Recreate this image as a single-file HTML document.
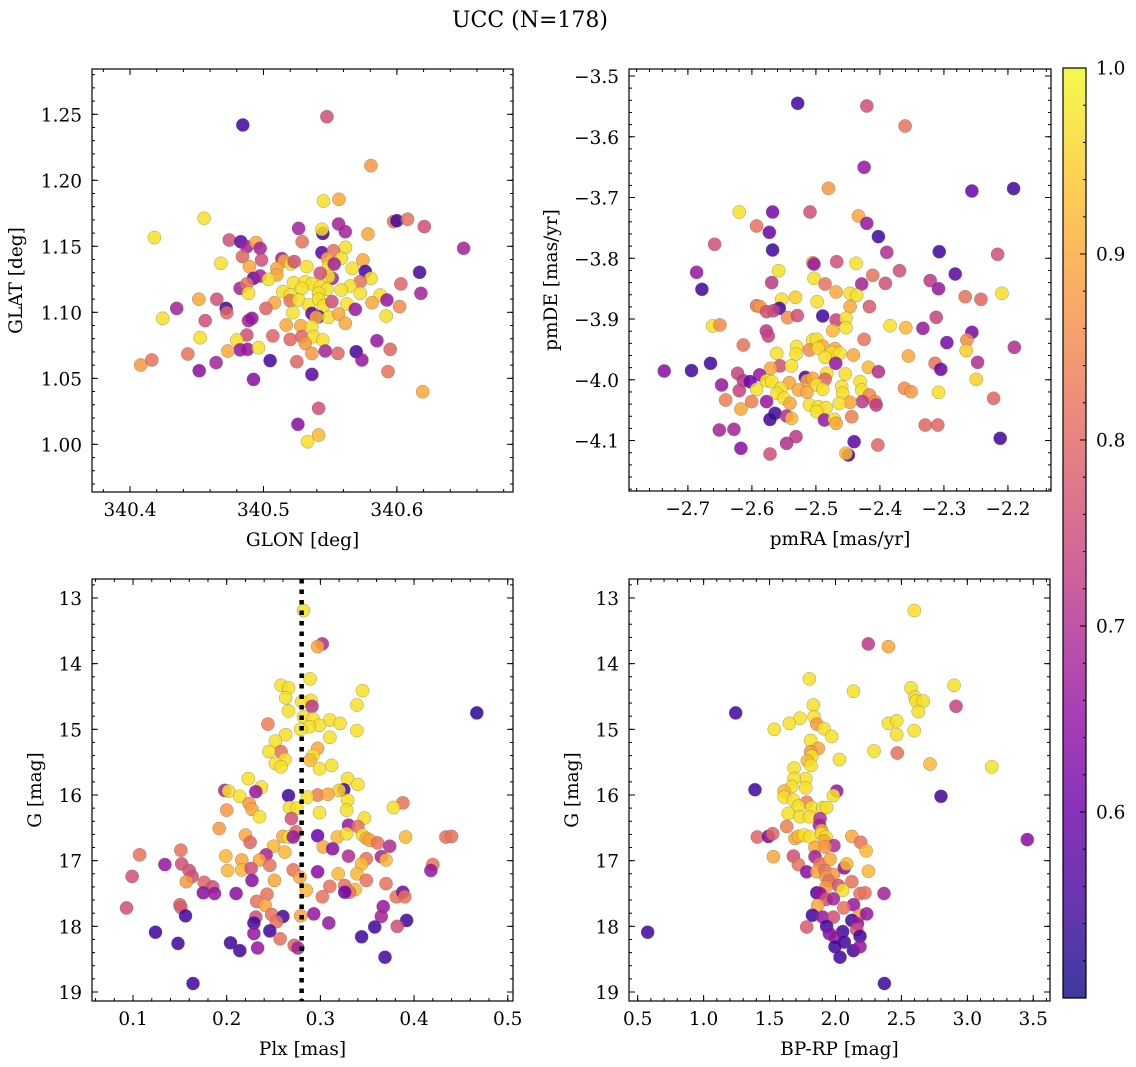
<!DOCTYPE html>
<html><head><meta charset="utf-8"><title>UCC (N=178)</title>
<style>
html,body{margin:0;padding:0;background:#fff;}
svg{display:block;font-family:"DejaVu Serif","Liberation Serif",serif;}
</style></head>
<body>
<svg id="fig" width="1136" height="1067" viewBox="0 0 1136 1067" xmlns="http://www.w3.org/2000/svg">
<text x="530" y="27" font-size="22" text-anchor="middle">UCC (N=178)</text>
</svg>
<script>
// Panel 1: GLON / GLAT
const glon=[340.4845,340.5475,340.5805,340.545,340.5565,340.4555,340.5975,340.6,340.608,340.6205,340.5263,340.5563,340.5613,340.5445,340.5438,340.5783,340.4183,340.4743,340.483,340.4875,340.4945,340.4975,340.529,340.65,340.5615,340.5438,340.5525,340.4843,340.4985,340.5138,340.5155,340.5205,340.523,340.468,340.548,340.5583,340.5745,340.5325,340.5488,340.553,340.5665,340.51,340.4895,340.5763,340.617,340.4925,340.4975,340.51,340.5038,340.5515,340.5488,340.5425,340.5805,340.5725,340.603,340.618,340.4825,340.4875,340.4888,340.5225,340.5313,340.5363,340.5425,340.565,340.5583,340.5475,340.5145,340.52,340.5288,340.5413,340.5725,340.5875,340.5925,340.4515,340.465,340.5083,340.52,340.5263,340.5338,340.5413,340.545,340.5513,340.5625,340.5688,340.5813,340.602,340.435,340.472,340.4725,340.5018,340.522,340.5363,340.5413,340.5395,340.5488,340.5563,340.592,340.4245,340.4563,340.4888,340.4913,340.517,340.528,340.5363,340.5613,340.4875,340.4525,340.507,340.48,340.52,340.5288,340.5375,340.5445,340.585,340.4825,340.4733,340.488,340.4963,340.5313,340.5363,340.5463,340.5558,340.5695,340.595,340.4433,340.408,340.4163,340.4645,340.505,340.525,340.5738,340.4518,340.5363,340.4925,340.5933,340.6193,340.5413,340.5258,340.5413,340.533];
const glat=[1.2419,1.2482,1.2111,1.1843,1.1856,1.1712,1.1687,1.1694,1.1705,1.1649,1.1636,1.1669,1.1611,1.1598,1.1629,1.1593,1.1566,1.1548,1.1535,1.1497,1.1528,1.1485,1.1535,1.1485,1.1492,1.1452,1.1467,1.1422,1.1396,1.1407,1.1389,1.1366,1.1384,1.1371,1.1407,1.1409,1.1396,1.1346,1.1346,1.1366,1.1333,1.1333,1.1346,1.131,1.1303,1.1258,1.1275,1.1283,1.125,1.1258,1.127,1.1296,1.1258,1.1232,1.1215,1.1144,1.1182,1.1215,1.1144,1.1225,1.1232,1.1215,1.1194,1.1199,1.1169,1.1174,1.1157,1.1131,1.1182,1.1144,1.1144,1.1131,1.1093,1.1099,1.1099,1.1073,1.1088,1.1093,1.1056,1.1099,1.1048,1.1081,1.1063,1.1023,1.1073,1.1043,1.103,1.103,1.0997,1.103,1.0997,1.0992,1.0967,1.0962,1.0962,1.0987,1.0972,1.0955,1.0937,1.0937,1.0955,1.0904,1.0899,1.0891,1.0917,1.0828,1.0808,1.0821,1.079,1.0795,1.0816,1.0816,1.079,1.0785,1.0715,1.0707,1.072,1.0732,1.0765,1.0689,1.0707,1.0689,1.0702,1.072,1.0684,1.0601,1.0639,1.0619,1.0634,1.0626,1.0639,1.0558,1.053,1.0492,1.0551,1.0399,1.0273,1.0152,1.0071,1.002];
const c1=[0.55,0.76,0.88,0.97,0.9,0.97,0.82,0.55,0.82,0.76,0.68,0.68,0.68,0.55,0.97,0.9,0.97,0.76,0.58,0.68,0.9,0.68,0.82,0.68,0.97,0.58,0.82,0.8,0.76,0.68,0.9,0.97,0.76,0.97,0.9,0.97,0.9,0.97,0.97,0.68,0.97,0.9,0.9,0.55,0.55,0.58,0.68,0.9,0.97,0.68,0.97,0.76,0.97,0.82,0.8,0.68,0.68,0.82,0.97,0.97,0.97,0.97,0.97,0.97,0.97,0.97,0.97,0.97,0.97,0.97,0.97,0.97,0.66,0.9,0.76,0.9,0.82,0.97,0.97,0.97,0.97,0.76,0.97,0.66,0.9,0.86,0.68,0.55,0.8,0.8,0.97,0.58,0.58,0.9,0.97,0.9,0.97,0.97,0.76,0.68,0.66,0.9,0.9,0.97,0.9,0.76,0.97,0.8,0.97,0.8,0.8,0.97,0.97,0.66,0.66,0.9,0.66,0.97,0.88,0.88,0.68,0.8,0.55,0.8,0.82,0.88,0.82,0.68,0.55,0.8,0.66,0.64,0.58,0.64,0.82,0.9,0.76,0.64,0.92,0.97];

// Panel 2: pmRA / pmDE
const pmra=[-2.5285,-2.4205,-2.3606,-2.4247,-2.4805,-2.2563,-2.1911,-2.6197,-2.5676,-2.5092,-2.4336,-2.4205,-2.5926,-2.5728,-2.4023,-2.6583,-2.5676,-2.3893,-2.3074,-2.2162,-2.505,-2.503,-2.4675,-2.4372,-2.6864,-2.5582,-2.3694,-2.2824,-2.4112,-2.503,-2.5691,-2.4857,-2.4284,-2.3914,-2.3215,-2.3085,-2.6781,-2.4685,-2.4466,-2.4362,-2.2094,-2.2667,-2.2422,-2.5321,-2.5535,-2.4979,-2.5926,-2.5874,-2.5572,-2.5665,-2.577,-2.4466,-2.4164,-2.5441,-2.529,-2.4894,-2.4685,-2.4529,-2.4737,-2.4529,-2.3841,-2.3596,-2.6614,-2.65,-2.3329,-2.3121,-2.2563,-2.5775,-2.5743,-2.4247,-2.2641,-2.505,-2.4988,-2.6134,-2.4894,-2.2954,-2.19,-2.53,-2.5102,-2.4962,-2.4701,-2.4753,-2.4623,-2.5613,-2.5311,-2.4414,-2.4857,-2.3555,-2.2652,-2.4691,-2.2474,-2.3137,-2.3048,-2.6646,-2.5561,-2.5384,-2.418,-2.737,-2.6943,-2.5707,-2.6223,-2.5879,-2.4831,-2.4539,-2.4023,-2.5165,-2.6134,-2.603,-2.577,-2.5691,-2.5139,-2.505,-2.4857,-2.431,-2.2495,-2.6474,-2.5415,-2.4989,-2.4597,-2.3616,-2.5926,-2.5545,-2.6197,-2.5274,-2.4894,-2.4284,-2.3513,-2.3085,-2.5139,-2.5608,-2.4582,-2.4164,-2.5498,-2.6411,-2.2224,-2.4075,-2.6004,-2.4273,-2.577,-2.5405,-2.4466,-2.4634,-2.406,-2.6171,-2.5102,-2.4962,-2.4842,-2.4989,-2.5639,-2.5457,-2.5379,-2.444,-2.5717,-2.4867,-2.4711,-2.4685,-2.651,-2.6281,-2.3293,-2.3095,-2.5311,-2.5457,-2.4403,-2.212,-2.6171,-2.4033,-2.5717,-2.4492,-2.4529];
const pmde=[-3.545,-3.5494,-3.5823,-3.6503,-3.6849,-3.6892,-3.6854,-3.7238,-3.7238,-3.7238,-3.7304,-3.7425,-3.7468,-3.7573,-3.7644,-3.777,-3.7863,-3.7902,-3.7891,-3.7935,-3.8072,-3.8094,-3.8056,-3.8083,-3.8231,-3.8204,-3.8204,-3.8258,-3.828,-3.833,-3.8401,-3.8423,-3.8423,-3.8412,-3.8368,-3.85,-3.8511,-3.8555,-3.8577,-3.861,-3.8577,-3.8632,-3.8675,-3.8642,-3.8675,-3.8714,-3.878,-3.8796,-3.8823,-3.8862,-3.8878,-3.8796,-3.8796,-3.8977,-3.8944,-3.895,-3.9015,-3.8988,-3.9191,-3.9142,-3.9109,-3.9142,-3.9114,-3.9098,-3.9153,-3.8972,-3.9218,-3.9197,-3.9279,-3.9334,-3.9345,-3.9345,-3.9334,-3.9427,-3.9443,-3.9388,-3.9465,-3.9454,-3.9509,-3.9482,-3.9487,-3.9553,-3.9564,-3.9564,-3.9575,-3.9591,-3.963,-3.9608,-3.952,-3.9728,-3.9712,-3.9728,-3.9827,-3.9728,-3.9772,-3.9772,-3.9794,-3.9855,-3.9849,-3.9811,-3.9893,-3.992,-3.9893,-3.9904,-3.9866,-3.9959,-4.0014,-4.003,-4.0014,-4.003,-4.0014,-3.9975,-3.9992,-4.003,-3.9992,-4.0085,-4.0047,-4.0085,-4.0112,-4.014,-4.0156,-4.014,-4.0178,-4.0167,-4.0156,-4.0167,-4.0195,-4.0206,-4.0206,-4.0222,-4.0222,-4.025,-4.0304,-4.0332,-4.0304,-4.0359,-4.0359,-4.0359,-4.0359,-4.0387,-4.037,-4.0387,-4.0414,-4.048,-4.0414,-4.0442,-4.0458,-4.0524,-4.0552,-4.0596,-4.0634,-4.0607,-4.0651,-4.0661,-4.0651,-4.0716,-4.0826,-4.0815,-4.0743,-4.0743,-4.0935,-4.1045,-4.1018,-4.0963,-4.1127,-4.1073,-4.1221,-4.1237,-4.121];
const c2=[0.55,0.76,0.82,0.66,0.88,0.6,0.55,0.97,0.62,0.76,0.9,0.66,0.82,0.6,0.55,0.76,0.55,0.7,0.55,0.76,0.9,0.66,0.76,0.97,0.66,0.97,0.76,0.58,0.82,0.97,0.72,0.82,0.68,0.76,0.72,0.66,0.55,0.9,0.97,0.97,0.97,0.82,0.8,0.95,0.97,0.97,0.82,0.88,0.55,0.74,0.76,0.9,0.78,0.86,0.76,0.55,0.74,0.97,0.92,0.97,0.97,0.92,0.97,0.86,0.66,0.74,0.62,0.72,0.74,0.82,0.86,0.97,0.97,0.82,0.9,0.62,0.7,0.97,0.86,0.97,0.9,0.97,0.97,0.97,0.97,0.9,0.97,0.9,0.95,0.66,0.7,0.82,0.6,0.55,0.76,0.97,0.92,0.64,0.55,0.9,0.74,0.66,0.97,0.97,0.7,0.55,0.72,0.6,0.97,0.97,0.9,0.9,0.8,0.97,0.95,0.66,0.9,0.97,0.97,0.86,0.97,0.97,0.74,0.9,0.97,0.97,0.88,0.97,0.9,0.97,0.97,0.86,0.97,0.84,0.8,0.86,0.84,0.72,0.66,0.9,0.9,0.97,0.72,0.9,0.97,0.97,0.97,0.97,0.55,0.7,0.92,0.84,0.55,0.66,0.97,0.9,0.68,0.68,0.8,0.8,0.72,0.7,0.58,0.55,0.64,0.8,0.76,0.55,0.92];

// Panel 3: Plx / G
const plx=[0.282,0.302,0.297,0.289,0.258,0.266,0.345,0.263,0.29,0.28,0.339,0.291,0.467,0.266,0.282,0.292,0.244,0.31,0.321,0.299,0.288,0.279,0.339,0.263,0.31,0.252,0.297,0.258,0.245,0.292,0.289,0.262,0.252,0.258,0.312,0.299,0.223,0.329,0.237,0.34,0.198,0.202,0.231,0.325,0.32,0.214,0.266,0.297,0.308,0.286,0.224,0.329,0.388,0.2,0.227,0.267,0.275,0.328,0.378,0.299,0.235,0.347,0.269,0.33,0.34,0.192,0.274,0.22,0.26,0.266,0.271,0.297,0.318,0.328,0.345,0.349,0.391,0.434,0.44,0.225,0.25,0.303,0.313,0.353,0.361,0.374,0.262,0.151,0.107,0.242,0.199,0.216,0.235,0.33,0.349,0.365,0.37,0.134,0.152,0.246,0.344,0.42,0.418,0.16,0.201,0.216,0.226,0.271,0.297,0.319,0.339,0.099,0.163,0.278,0.349,0.157,0.251,0.227,0.176,0.37,0.185,0.31,0.326,0.285,0.337,0.331,0.326,0.175,0.187,0.21,0.243,0.302,0.381,0.388,0.39,0.232,0.15,0.241,0.367,0.151,0.093,0.156,0.231,0.248,0.26,0.279,0.293,0.365,0.229,0.253,0.309,0.392,0.246,0.358,0.382,0.124,0.229,0.257,0.148,0.204,0.344,0.214,0.233,0.272,0.276,0.369,0.164];
const gmag1=[13.19,13.7,13.74,14.23,14.33,14.37,14.41,14.52,14.56,14.58,14.63,14.65,14.75,14.72,14.81,14.84,14.92,14.86,14.91,14.94,14.96,15.0,15.02,15.08,15.12,15.18,15.29,15.34,15.34,15.4,15.47,15.46,15.52,15.57,15.55,15.6,15.75,15.75,15.88,15.84,15.93,15.94,15.95,15.92,15.93,16.02,16.01,16.0,15.99,16.03,16.13,16.08,16.12,16.23,16.22,16.19,16.2,16.23,16.19,16.27,16.33,16.35,16.36,16.46,16.48,16.51,16.56,16.61,16.63,16.64,16.64,16.62,16.64,16.59,16.61,16.66,16.64,16.64,16.63,16.72,16.78,16.79,16.82,16.69,16.73,16.78,16.87,16.84,16.91,16.91,16.93,16.99,16.99,16.93,16.97,16.94,16.99,17.06,17.05,17.07,17.05,17.06,17.15,17.15,17.15,17.14,17.12,17.14,17.17,17.2,17.2,17.24,17.24,17.25,17.3,17.32,17.3,17.3,17.33,17.35,17.4,17.39,17.38,17.45,17.44,17.48,17.48,17.49,17.5,17.5,17.51,17.55,17.55,17.48,17.55,17.62,17.67,17.68,17.7,17.71,17.72,17.84,17.86,17.82,17.85,17.84,17.81,17.85,17.95,17.93,17.95,17.91,18.07,18.01,18.0,18.09,18.11,18.19,18.26,18.25,18.16,18.37,18.33,18.29,18.33,18.47,18.87];
const c3=[0.97,0.7,0.9,0.97,0.97,0.97,0.97,0.97,0.97,0.97,0.97,0.72,0.53,0.97,0.97,0.97,0.84,0.97,0.97,0.97,0.97,0.97,0.97,0.97,0.97,0.97,0.9,0.82,0.97,0.97,0.92,0.97,0.97,0.97,0.97,0.97,0.97,0.97,0.97,0.97,0.68,0.97,0.66,0.55,0.95,0.97,0.55,0.84,0.9,0.97,0.88,0.97,0.82,0.88,0.9,0.97,0.97,0.97,0.97,0.97,0.97,0.97,0.76,0.66,0.82,0.88,0.8,0.9,0.9,0.97,0.66,0.6,0.92,0.97,0.97,0.9,0.92,0.82,0.82,0.8,0.92,0.9,0.64,0.9,0.82,0.7,0.92,0.82,0.82,0.68,0.92,0.9,0.9,0.7,0.82,0.68,0.92,0.66,0.76,0.82,0.92,0.82,0.66,0.76,0.92,0.92,0.76,0.82,0.64,0.92,0.92,0.76,0.76,0.9,0.82,0.88,0.9,0.64,0.8,0.82,0.76,0.82,0.82,0.92,0.92,0.82,0.6,0.64,0.66,0.64,0.82,0.82,0.82,0.62,0.82,0.82,0.8,0.9,0.66,0.78,0.76,0.55,0.76,0.82,0.55,0.9,0.66,0.68,0.55,0.82,0.66,0.55,0.55,0.55,0.76,0.55,0.66,0.82,0.55,0.55,0.55,0.55,0.66,0.8,0.68,0.55,0.55];

// Panel 4: BP-RP / G
const bprp=[2.598,2.249,2.401,1.802,2.136,2.573,2.899,2.603,2.611,2.666,1.243,2.914,1.832,2.628,1.838,1.731,1.65,1.858,2.401,2.464,1.536,1.913,1.971,2.464,2.596,1.812,1.87,1.812,2.292,2.469,1.82,1.787,2.03,1.815,2.717,3.185,1.686,1.774,1.686,1.774,1.668,1.61,1.39,2.009,1.984,2.8,1.61,1.681,1.782,1.719,1.82,1.903,1.933,1.642,1.731,1.802,1.883,1.63,1.878,1.895,1.407,1.491,1.524,1.693,1.719,1.761,1.807,1.895,1.928,1.913,1.988,1.845,1.921,2.124,2.191,2.232,3.455,1.529,1.681,1.719,1.845,1.883,1.959,1.782,1.858,1.921,1.984,2.066,2.085,2.25,1.928,1.949,2.124,2.022,1.928,1.858,1.883,2.055,2.186,2.224,2.368,1.928,1.984,2.137,2.063,1.865,1.825,1.903,1.984,2.183,2.237,2.124,2.166,1.782,1.933,0.576,2.055,2.161,1.954,1.996,2.186,2.067,1.996,2.136,2.186,2.034,2.371];
const gmag2=[13.19,13.7,13.74,14.23,14.42,14.37,14.33,14.51,14.57,14.57,14.75,14.65,14.63,14.73,14.81,14.83,14.91,14.92,14.91,14.87,15.0,14.99,15.11,15.08,15.02,15.17,15.29,15.34,15.33,15.36,15.41,15.48,15.46,15.55,15.53,15.57,15.59,15.75,15.75,15.89,15.87,15.94,15.92,15.94,16.01,16.02,16.03,16.08,16.11,16.17,16.19,16.19,16.19,16.28,16.33,16.33,16.36,16.48,16.46,16.54,16.64,16.63,16.59,16.66,16.63,16.61,16.64,16.59,16.64,16.7,16.77,16.8,16.79,16.63,16.72,16.85,16.68,16.94,16.93,17.06,16.94,17.05,16.98,17.17,17.17,17.15,17.21,17.11,17.05,17.16,17.25,17.31,17.32,17.38,17.4,17.49,17.5,17.45,17.5,17.49,17.5,17.59,17.58,17.67,17.72,17.68,17.83,17.86,17.86,17.83,17.81,17.91,17.96,18.01,18.0,18.09,18.08,18.05,18.11,18.17,18.15,18.24,18.31,18.37,18.31,18.47,18.87];
const c4=[0.97,0.72,0.9,0.97,0.97,0.97,0.97,0.97,0.97,0.97,0.55,0.74,0.97,0.97,0.97,0.97,0.97,0.88,0.97,0.97,0.97,0.97,0.97,0.97,0.97,0.97,0.9,0.88,0.97,0.82,0.97,0.92,0.97,0.97,0.92,0.97,0.97,0.97,0.97,0.97,0.97,0.92,0.55,0.66,0.97,0.55,0.97,0.97,0.84,0.97,0.97,0.97,0.97,0.97,0.97,0.97,0.7,0.84,0.68,0.9,0.8,0.62,0.8,0.9,0.92,0.97,0.97,0.97,0.97,0.9,0.7,0.9,0.88,0.9,0.82,0.92,0.64,0.9,0.76,0.82,0.68,0.82,0.9,0.64,0.9,0.82,0.88,0.64,0.92,0.92,0.88,0.82,0.82,0.76,0.88,0.55,0.66,0.97,0.82,0.82,0.68,0.76,0.68,0.66,0.82,0.9,0.55,0.66,0.76,0.88,0.66,0.55,0.66,0.78,0.55,0.55,0.55,0.76,0.64,0.66,0.55,0.55,0.55,0.55,0.66,0.55,0.55];

// Colorbar ticks
const cbTicks=[0.6,0.7,0.8,0.9,1.0];
const cbTickLabels=["0.6","0.7","0.8","0.9","1.0"];
const VMIN=0.5, VMAX=1.0;

const NS="http://www.w3.org/2000/svg";
const svg=document.getElementById('fig');
const plasma=[[13,8,135],[65,4,157],[106,0,168],[143,13,164],[177,42,144],[204,71,120],[225,100,98],[242,132,75],[252,166,54],[252,206,37],[240,249,33]];
function cmap(v){let t=(v-VMIN)/(VMAX-VMIN);t=Math.max(0,Math.min(1,t));const s=t*10;const i=Math.min(9,Math.floor(s));const f=s-i;const a=plasma[i],b=plasma[i+1];return 'rgb('+[0,1,2].map(k=>Math.round(a[k]+(b[k]-a[k])*f)).join(',')+')';}
function mk(tag,attrs,parent){const e=document.createElementNS(NS,tag);for(const k in attrs)e.setAttribute(k,attrs[k]);(parent||svg).appendChild(e);return e;}
function fmt(v,d){let s=v.toFixed(d);return s.replace('-','\u2212');}
const FS=18.5;

function panel(o){
  const g=mk('g',{});
  
  
  const sx=v=>o.x0+(v-o.xd[0])/(o.xd[1]-o.xd[0])*(o.x1-o.x0);
  const sy=o.yrev?(v=>o.y0+(v-o.yd[0])/(o.yd[1]-o.yd[0])*(o.y1-o.y0)):(v=>o.y1-(v-o.yd[0])/(o.yd[1]-o.yd[0])*(o.y1-o.y0));
  const pg=mk('g',{},g);
  
  
  for(let i=0;i<o.xs.length;i++){
    const c=mk('circle',{cx:sx(o.xs[i]).toFixed(1),cy:sy(o.ys[i]).toFixed(1),r:6.6,fill:cmap(o.cs[i]),'fill-opacity':0.85,stroke:'#666','stroke-width':0.5,'stroke-opacity':0.6},pg);
    
    
  }
  if(o.vline!==undefined){
    const l=mk('line',{x1:sx(o.vline),x2:sx(o.vline),y1:o.y0,y2:o.y1,stroke:'#000','stroke-width':4.5,'stroke-dasharray':'4.5,6'},g);
    
    
  }
  const fr=mk('rect',{x:o.x0,y:o.y0,width:o.x1-o.x0,height:o.y1-o.y0,fill:'none',stroke:'#000','stroke-width':1.2},g);
  
  
  const tg=mk('g',{stroke:'#000','stroke-width':1},g);
  
  
  const eps=1e-9;
  for(let v=Math.ceil(o.xd[0]/o.xmin-eps)*o.xmin;v<=o.xd[1];v+=o.xmin){const X=sx(v);mk('line',{x1:X,x2:X,y1:o.y1,y2:o.y1-3},tg);mk('line',{x1:X,x2:X,y1:o.y0,y2:o.y0+3},tg);}
  for(let v=Math.ceil(o.yd[0]/o.ymin-eps)*o.ymin;v<=o.yd[1];v+=o.ymin){const Y=sy(v);mk('line',{x1:o.x0,x2:o.x0+3,y1:Y,y2:Y},tg);mk('line',{x1:o.x1,x2:o.x1-3,y1:Y,y2:Y},tg);}
  o.xt.forEach((v,i)=>{const X=sx(v);mk('line',{x1:X,x2:X,y1:o.y1,y2:o.y1-6},tg);mk('line',{x1:X,x2:X,y1:o.y0,y2:o.y0+6},tg);
    const t=mk('text',{x:X,y:o.y1+24,'font-size':FS,'text-anchor':'middle'},g);t.textContent=o.xtl[i];
    
    });
  o.yt.forEach((v,i)=>{const Y=sy(v);mk('line',{x1:o.x0,x2:o.x0+6,y1:Y,y2:Y},tg);mk('line',{x1:o.x1,x2:o.x1-6,y1:Y,y2:Y},tg);
    const t=mk('text',{x:o.x0-10,y:Y+7,'font-size':FS,'text-anchor':'end'},g);t.textContent=o.ytl[i];
    
    });
  const xt=mk('text',{x:(o.x0+o.x1)/2,y:o.y1+54,'font-size':FS,'text-anchor':'middle'},g);xt.textContent=o.xlabel;
  
  
  const yc=(o.y0+o.y1)/2;
  const yt=mk('text',{x:o.ylx,y:yc,'font-size':FS,'text-anchor':'middle',transform:'rotate(-90 '+o.ylx+' '+yc+')'},g);yt.textContent=o.ylabel;
  
  
}
function range(a,b,s){const r=[];for(let i=0;a+i*s<=b+1e-9;i++)r.push(+(a+i*s).toFixed(6));return r;}

const t1x=range(340.4,340.6,0.1), t1y=range(1.0,1.25,0.05);
panel({name:'glon-glat-panel',x0:92,x1:513,y0:69,y1:492,xd:[340.3715,340.687],yd:[0.9639,1.2843],xs:glon,ys:glat,cs:c1,
  xt:t1x,xtl:t1x.map(v=>v.toFixed(1)),yt:t1y,ytl:t1y.map(v=>v.toFixed(2)),xmin:0.02,ymin:0.01,xlabel:'GLON [deg]',ylabel:'GLAT [deg]',ylx:22});
const t2x=range(-2.7,-2.2,0.1), t2y=range(-4.1,-3.5,0.1);
panel({name:'pmra-pmde-panel',x0:629,x1:1051,y0:69,y1:491,xd:[-2.792,-2.1327],yd:[-4.183,-3.4885],xs:pmra,ys:pmde,cs:c2,
  xt:t2x,xtl:t2x.map(v=>fmt(v,1)),yt:t2y,ytl:t2y.map(v=>fmt(v,1)),xmin:0.02,ymin:0.02,xlabel:'pmRA [mas/yr]',ylabel:'pmDE [mas/yr]',ylx:557});
const t3x=range(0.1,0.5,0.1), t3y=range(13,19,1);
panel({name:'plx-g-panel',x0:92,x1:513,y0:579,y1:1001,xd:[0.0562,0.5056],yd:[12.711,19.137],yrev:true,xs:plx,ys:gmag1,cs:c3,
  xt:t3x,xtl:t3x.map(v=>v.toFixed(1)),yt:t3y,ytl:t3y.map(v=>v.toFixed(0)),xmin:0.02,ymin:0.2,xlabel:'Plx [mas]',ylabel:'G [mag]',ylx:41,vline:0.28});
const t4x=range(0.5,3.5,0.5);
panel({name:'cmd-panel',x0:629,x1:1050,y0:579,y1:1001,xd:[0.434,3.627],yd:[12.711,19.137],yrev:true,xs:bprp,ys:gmag2,cs:c4,
  xt:t4x,xtl:t4x.map(v=>v.toFixed(1)),yt:t3y,ytl:t3y.map(v=>v.toFixed(0)),xmin:0.1,ymin:0.2,xlabel:'BP-RP [mag]',ylabel:'G [mag]',ylx:578});

const cb=mk('g',{});


const defs=mk('defs',{},cb);
const lg=mk('linearGradient',{id:'cbg',x1:0,y1:1,x2:0,y2:0},defs);
for(let k=0;k<=20;k++){const v=VMIN+(VMAX-VMIN)*k/20;mk('stop',{offset:k/20,'stop-color':cmap(v),'stop-opacity':0.8},lg);}
const cbx0=1063,cbx1=1086,cby0=68,cby1=998;
const cy=v=>cby1-(v-VMIN)/(VMAX-VMIN)*(cby1-cby0);
mk('rect',{x:cbx0,y:cby0,width:cbx1-cbx0,height:cby1-cby0,fill:'url(#cbg)',stroke:'#000','stroke-width':1.2},cb);
for(let v=0.52;v<=1.0001;v+=0.02){const Y=cy(v);mk('line',{x1:cbx1,x2:cbx1-3,y1:Y,y2:Y,stroke:'#000','stroke-width':1},cb);}
cbTicks.forEach((v,i)=>{const Y=cy(v);mk('line',{x1:cbx1,x2:cbx1-6,y1:Y,y2:Y,stroke:'#000','stroke-width':1},cb);
  const t=mk('text',{x:cbx1+10,y:Y+6.5,'font-size':FS},cb);t.textContent=cbTickLabels[i];
  
  });
</script>
</body></html>
